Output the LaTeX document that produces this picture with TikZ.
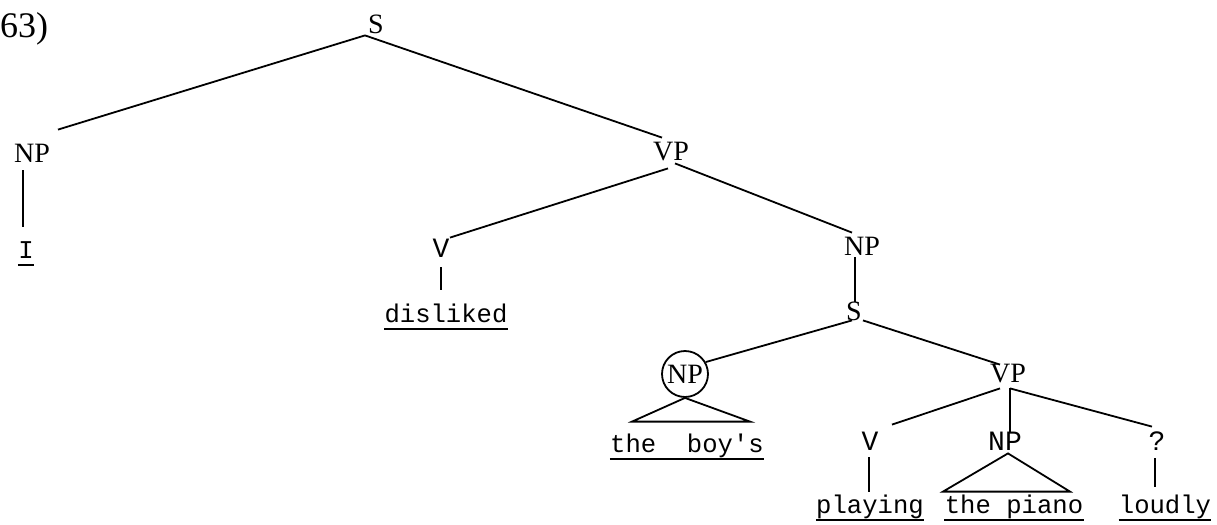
\documentclass[tikz,border=0pt]{standalone}
\usepackage{fontspec}
\setmainfont{Liberation Serif}
\setmonofont{Liberation Mono}
\usetikzlibrary{calc}
\begin{document}
\begin{tikzpicture}[x=0.5pt,y=-0.5pt,
  lab/.style={font=\fontsize{14}{16}\selectfont, inner sep=1.5pt, text height=8.5pt, text depth=0pt, anchor=base},
  mlab/.style={lab, font=\ttfamily\fontsize{14}{16}\selectfont},
  word/.style={font=\ttfamily\fontsize{12.8}{15}\selectfont, inner sep=0pt, text height=9pt, text depth=2.5pt, anchor=base},
  edge/.style={line width=0.9pt},
  ul/.style={line width=1pt}]
\useasboundingbox (0,0) rectangle (1217,525);
\node[anchor=base, font=\fontsize{18}{20}\selectfont, inner sep=0pt] (num) at (24,37) {63)};
\node[lab] (S) at (376,33) {S};
\node[lab] (NPa) at (32,162) {NP};
\node[word] (I) at (26,258) {I};
\node[lab] (VP) at (671,160) {VP};
\node[mlab] (Va) at (441,257) {V};
\node[word] (disliked) at (446,322) {disliked};
\node[lab] (NPb) at (862,255) {NP};
\node[lab] (Sb) at (854,320) {S};
\node[circle, draw, line width=0.9pt, minimum size=23pt, inner sep=0pt, font=\fontsize{14}{16}\selectfont] (NPc) at (685,374) {NP};
\node[word] (boys) at (687,452) {the\ \ boy's};
\node[lab] (VPb) at (1008,382) {VP};
\node[mlab] (Vb) at (870,450) {V};
\node[mlab] (NPd) at (1005,450) {NP};
\node[mlab] (Q) at (1157,450) {?};
\node[word] (playing) at (870,513) {playing};
\node[word] (piano) at (1014,513) {the piano};
\node[word] (loudly) at (1165,513) {loudly};
\foreach \w in {I,disliked,boys,playing,piano,loudly}
  \draw[ul] ($(\w.base west)+(0,7)$) -- ($(\w.base east)+(0,7)$);
% edges
\draw[edge] ($(S.south)+(-11,-1)$) -- ($(NPa.north)+(26,-12)$);
\draw[edge] ($(NPa.south)+(-9,5)$) -- ($(I.north)+(-3,-13)$);
\draw[edge] ($(S.south)+(-11,-1)$) -- ($(VP.north)+(-9,-2)$);
\draw[edge] ($(VP.south)+(-3,5)$) -- ($(Va.north)+(9,1)$);
\draw[edge] ($(VP.south)+(4,0)$) -- ($(NPb.north)+(-10,-2)$);
\draw[edge] ($(Va.south)+(0,7)$) -- ($(disliked.north)+(-5,-14)$);
\draw[edge] ($(NPb.south)+(-7,-1)$) -- ($(Sb.north)+(1,2)$);
\draw[edge] ($(Sb.south)+(-2,-3)$) -- (NPc.30);
\draw[edge] ($(Sb.south)+(9,-3)$) -- ($(VPb.north)+(-8,3)$);
\draw[edge] ($(boys.north)+(-55,-12)$) -- (NPc.south) -- ($(boys.north)+(63,-12)$) -- cycle;
\draw[edge] ($(VPb.south)+(-8,3)$) -- ($(Vb.north)+(22,-5)$);
\draw[edge] ($(VPb.south)+(2,3)$) -- ($(NPd.north)+(5,2)$);
\draw[edge] ($(VPb.south)+(2,3)$) -- ($(Q.north)+(-5,-3)$);
\draw[edge] ($(Vb.south)+(-1,4)$) -- ($(playing.north)+(-1,-3)$);
\draw[edge] ($(piano.north)+(-71,-3)$) -- ($(NPd.south)+(3,0)$) -- ($(piano.north)+(56,-3)$) -- cycle;
\draw[edge] ($(Q.south)+(-2,5)$) -- ($(loudly.north)+(-10,-8)$);
\end{tikzpicture}
\end{document}
